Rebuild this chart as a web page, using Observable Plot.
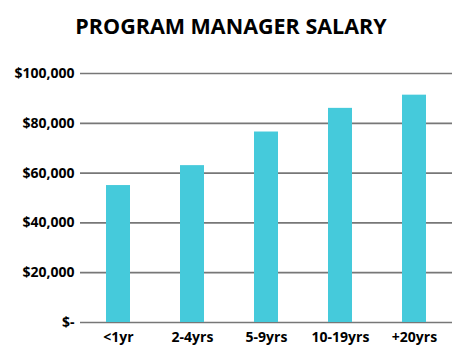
<!DOCTYPE html>
<html>
<head>
<meta charset="utf-8">
<script src="https://cdn.jsdelivr.net/npm/d3@7"></script>
<script src="https://cdn.jsdelivr.net/npm/@observablehq/plot@0.6"></script>
<style>
  html, body { margin: 0; padding: 0; background: #fff; }
  #title { width: 474px; height: 48px; box-sizing: border-box; text-align: center;
    font-family: "Open Sans", sans-serif; font-weight: 700; font-size: 21.5px; line-height: 51px; color: #000; }
  #title span { position: relative; left: -6px; }
</style>
</head>
<body>
<div id="title"><span>PROGRAM MANAGER SALARY</span></div>
<div id="chart"></div>
<script>
const categories = ["<1yr", "2-4yrs", "5-9yrs", "10-19yrs", "+20yrs"];
const salaries = [55000, 63000, 76500, 86000, 91300];
const yTicks = [0, 20000, 40000, 60000, 80000, 100000];
const yTickLabels = ["$-", "$20,000", "$40,000", "$60,000", "$80,000", "$100,000"];

const data = categories.map((c, i) => ({category: c, salary: salaries[i]}));

const chart = Plot.plot({
  width: 474,
  height: 310,
  marginTop: 25,
  marginBottom: 36,
  marginLeft: 80,
  marginRight: 22,
  style: {fontFamily: "'Open Sans', sans-serif", fontWeight: 700, color: "#000", background: "#fff"},
  x: {domain: categories, paddingInner: 0.68, paddingOuter: 0.34, label: null},
  y: {domain: [0, 100000], label: null},
  marks: [
    Plot.ruleY(yTicks, {stroke: "#777", strokeWidth: 1.7}),
    Plot.barY(data, {x: "category", y: "salary", fill: "#45CADB"}),
    Plot.axisY({ticks: yTicks, tickSize: 0, tickPadding: 6, tickFormat: d => yTickLabels[yTicks.indexOf(d)], fontSize: 14, fontWeight: 700, label: null}),
    Plot.axisX({tickSize: 0, tickPadding: 10, fontSize: 14, fontWeight: 700, label: null})
  ]
});
document.getElementById("chart").appendChild(chart);
</script>
</body>
</html>
